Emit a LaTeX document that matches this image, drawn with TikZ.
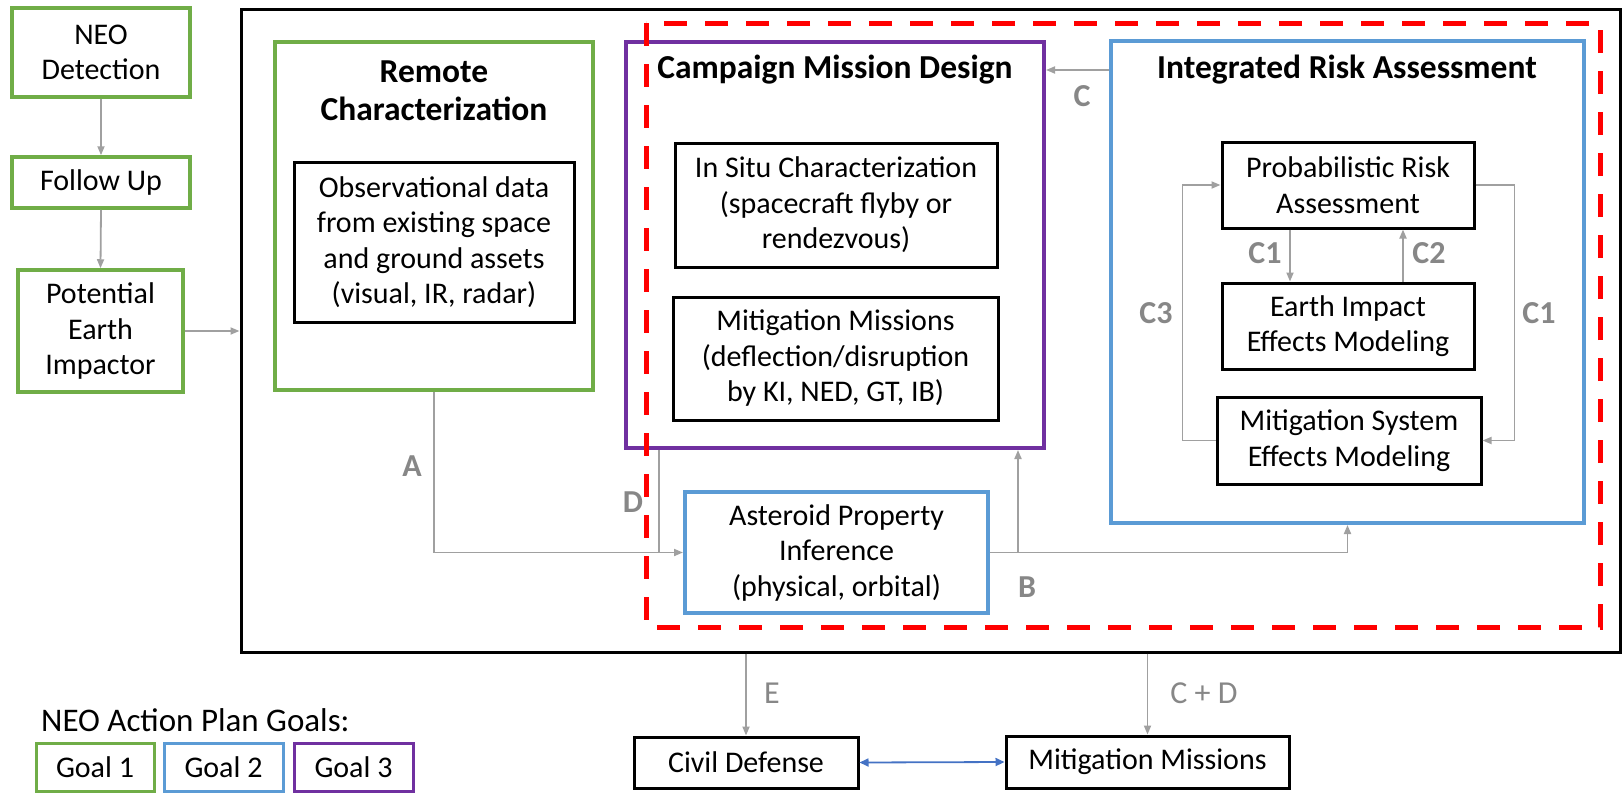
\documentclass[tikz,border=0pt]{standalone}
\usepackage{fontspec}
\setmainfont{Carlito}
\usetikzlibrary{arrows.meta}
\definecolor{ggreen}{RGB}{112,173,71}
\definecolor{gblue}{RGB}{91,155,213}
\definecolor{gpurple}{RGB}{112,48,160}
\definecolor{lgray}{RGB}{160,160,160}
\definecolor{tgray}{RGB}{135,135,135}
\definecolor{dblue}{RGB}{68,114,196}
\definecolor{dred}{RGB}{255,0,0}
\begin{document}
\begin{tikzpicture}[x=1pt,y=-1pt,
  box/.style={draw, rectangle, inner sep=0pt, align=center, font=\fontsize{30}{35.5}\selectfont},
  gbox/.style={box, draw=ggreen, line width=3.5pt},
  bbox/.style={box, draw=gblue, line width=4pt},
  pbox/.style={box, draw=gpurple, line width=4pt},
  kbox/.style={box, draw=black, line width=3pt},
  ttl/.style={inner sep=0pt, align=center, font=\fontsize{33.5}{38}\selectfont\bfseries},
  lbl/.style={inner sep=0pt, text=tgray, font=\fontsize{32}{36}\selectfont\bfseries},
  lblr/.style={inner sep=0pt, text=tgray, font=\fontsize{32}{36}\selectfont},
  conn/.style={draw=lgray, line width=1.8pt, -{Triangle[length=9pt,width=7pt]}},
  plainline/.style={draw=lgray, line width=1.8pt},
  dblarrow/.style={draw=dblue, line width=1.8pt, {Triangle[length=9pt,width=8pt]}-{Triangle[length=9pt,width=8pt]}},
  reddash/.style={draw=dred, line width=5pt, dash pattern=on 23pt off 18pt}
]
\useasboundingbox (0,0) rectangle (1623,793);

% left column
\node[gbox, minimum width=178pt, minimum height=89pt] (neo) at (101,52.5) {NEO\\Detection};
\node[gbox, minimum width=178pt, minimum height=51pt] (fu) at (101,182.5) {Follow Up};
\node[gbox, minimum width=165pt, minimum height=122pt] (pei) at (100.5,331) {Potential\\Earth\\Impactor};

% big frame
\node[draw=black, line width=3pt, minimum width=1379pt, minimum height=643pt, inner sep=0pt] (big) at (930.5,330.5) {};

% remote characterization
\node[gbox, line width=4pt, minimum width=318pt, minimum height=348pt] (remote) at (434,216) {};
\node[ttl] (remotet) at (434,91) {Remote\\Characterization};
\node[kbox, minimum width=280pt, minimum height=160pt] (obs) at (434,242) {Observational data\\from existing space\\and ground assets\\(visual, IR, radar)};

% campaign mission design
\node[pbox, minimum width=418pt, minimum height=406pt] (camp) at (835,245) {};
\node[ttl] (campt) at (835,70) {Campaign Mission Design};
\node[kbox, minimum width=322pt, minimum height=124pt] (insitu) at (836,205) {In Situ Characterization\\(spacecraft flyby or\\rendezvous)};
\node[kbox, minimum width=325pt, minimum height=123pt] (mitin) at (835.5,358.5) {Mitigation Missions\\(deflection/disruption\\by KI, NED, GT, IB)};

% integrated risk assessment
\node[bbox, minimum width=473pt, minimum height=482pt] (ira) at (1347.5,282) {};
\node[ttl] (irat) at (1347,70) {Integrated Risk Assessment};
\node[kbox, minimum width=252pt, minimum height=86pt] (pra) at (1348,185) {Probabilistic Risk\\Assessment};
\node[kbox, minimum width=252pt, minimum height=86pt] (eiem) at (1348,326) {Earth Impact\\Effects Modeling};
\node[kbox, minimum width=264pt, minimum height=87pt] (msem) at (1349,440.5) {Mitigation System\\Effects Modeling};

% asteroid property inference
\node[bbox, minimum width=303pt, minimum height=121pt] (api) at (836.5,552.5) {Asteroid Property\\Inference\\(physical, orbital)};

% outputs
\node[kbox, minimum width=224pt, minimum height=51pt] (civil) at (746,762.5) {Civil Defense};
\node[kbox, minimum width=283pt, minimum height=52pt] (mm) at (1147.5,762) {Mitigation Missions};

% legend
\node[inner sep=0pt, anchor=west, font=\fontsize{33}{38}\selectfont] (legt) at (41,720) {NEO Action Plan Goals:};
\node[gbox, line width=3pt, minimum width=118pt, minimum height=48pt] (g1) at (95,767) {Goal 1};
\node[bbox, line width=3pt, minimum width=119pt, minimum height=48pt] (g2) at (223.5,767) {Goal 2};
\node[pbox, line width=3pt, minimum width=119pt, minimum height=48pt] (g3) at (353.5,767) {Goal 3};

% helper coordinates
\coordinate (dx) at (659,0);
\coordinate (bup) at (1018,0);
\coordinate (c1x) at (1290,0);
\coordinate (c2x) at (1403,0);

% connectors
\draw[conn] (neo.south) -- (fu.north);
\draw[conn] (fu.south) -- (pei.north);
\draw[conn] (pei.east) -- (pei.east -| big.west);
\draw[conn] (remote.south) |- (api.west);
\draw[plainline] (camp.south -| dx) -- (api.west -| dx);
\draw[conn] (api.east) -| (ira.south);
\draw[conn] (api.east -| bup) -- (camp.south -| bup);
\draw[conn] (ira.west |- irat) -- (camp.east |- irat);
\draw[conn] (pra.south -| c1x) -- (eiem.north -| c1x);
\draw[conn] (eiem.north -| c2x) -- (pra.south -| c2x);
\draw[conn] (msem.west) -- ++(-33,0) |- (pra.west);
\draw[conn] (pra.east) -- ++(39,0) |- (msem.east);
\draw[conn] (big.south -| civil.north) -- (civil.north);
\draw[conn] (big.south -| mm.north) -- (mm.north);
\draw[dblarrow] (civil.east) -- (mm.west);

% red dashed region
\draw[reddash] (646,23) rectangle (1600,627);

% labels
\node[lbl] (la) at (412,466) {A};
\node[lbl] (ld) at (633,502) {D};
\node[lbl] (lb) at (1027,587) {B};
\node[lbl] (lc) at (1082,96) {C};
\node[lbl] (lc1a) at (1265,253) {C1};
\node[lbl] (lc2) at (1429,253) {C2};
\node[lbl] (lc3) at (1156,313) {C3};
\node[lbl] (lc1b) at (1539,313) {C1};
\node[lblr] (le) at (772,693) {E};
\node[lblr] (lcd) at (1204,693) {C + D};
\end{tikzpicture}
\end{document}
